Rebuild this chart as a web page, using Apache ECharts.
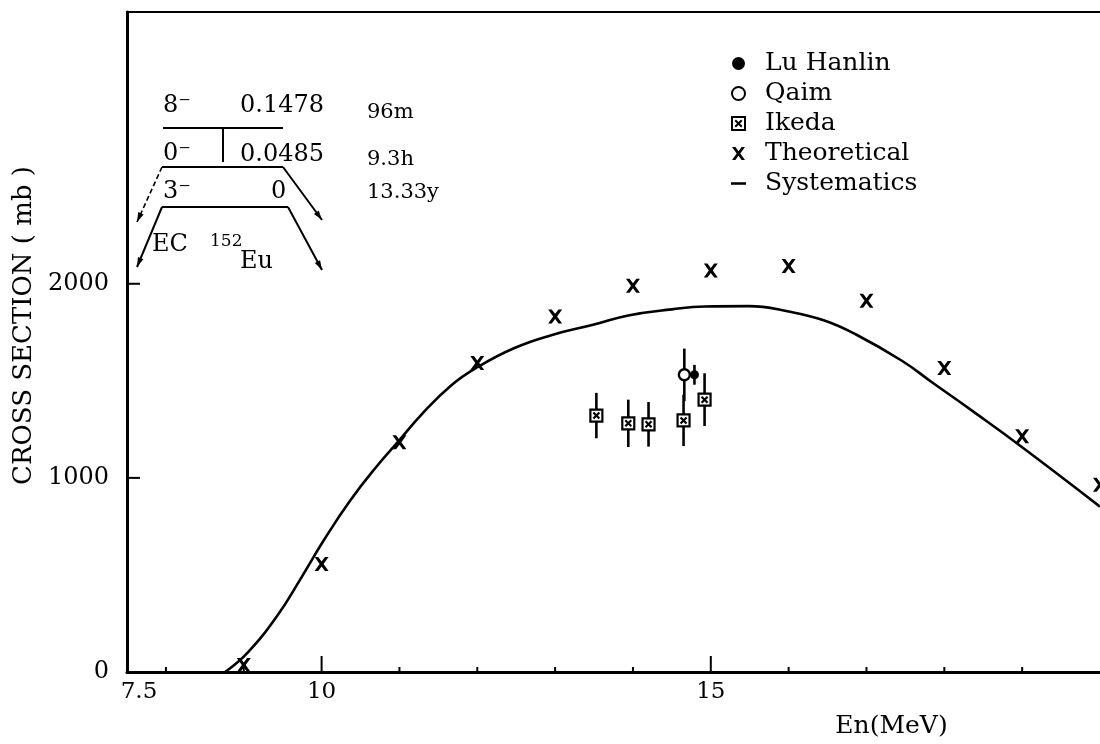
<!DOCTYPE html>
<html>
<head>
<meta charset="UTF-8">
<title>152Eu cross section</title>
<style>
  html, body { margin: 0; padding: 0; background: #fff; }
  #chart { width: 1100px; height: 744px; }
</style>
</head>
<body>
<div id="chart"></div>
<script src="https://cdn.jsdelivr.net/npm/echarts@6/dist/echarts.min.js"></script>
<script>
// systematics curve (En in MeV, cross section in mb)
var sysX = [8.76, 9.05, 9.43, 9.73, 10.03, 10.37, 10.72, 11.0, 11.28, 11.66, 12.0, 12.47, 12.95, 13.5, 13.94, 14.5, 14.92, 15.49, 16.0, 16.45, 16.86, 17.46, 17.85, 18.36, 19.0, 20.0];
var sysY = [0, 100, 290, 480, 680, 885, 1065, 1195, 1325, 1475, 1570, 1668, 1735, 1790, 1837, 1868, 1883, 1885, 1857, 1812, 1740, 1602, 1490, 1345, 1158, 852];

// theoretical values
var theoX = [9, 10, 11, 12, 13, 14, 15, 16, 17, 18, 19, 20];
var theoY = [36, 556, 1184, 1592, 1832, 1990, 2068, 2092, 1913, 1566, 1214, 964];

// measurements
var ikedaX = [13.53, 13.94, 14.2, 14.65, 14.92];
var ikedaY = [1321, 1281, 1276, 1296, 1403];
var ikedaErr = [117, 122, 115, 132, 136];
var qaimX = [14.66];
var qaimY = [1531];
var qaimErr = [135];
var luX = [14.79];
var luY = [1531];
var luErr = [51];

// axis decoration
var xTicks = [8, 9, 10, 11, 12, 13, 14, 15, 16, 17, 18, 19];
var yTicks = [1000, 2000];
var xLabels = [7.5, 10, 15];
var yLabels = [0, 1000, 2000];

var serif = '"DejaVu Serif", "Liberation Serif", serif';

function pairs(xs, ys) {
    return xs.map(function(x, i) { return [x, ys[i]]; });
}

function errSeries(xs, ys, es) {
    return {
        type: 'custom',
        name: 'err',
        silent: true,
        z: 1,
        encode: { x: 0, y: [1, 2] },
        data: xs.map(function(x, i) { return [x, ys[i] - es[i], ys[i] + es[i]]; }),
        renderItem: function(params, api) {
            var lo = api.coord([api.value(0), api.value(1)]);
            var hi = api.coord([api.value(0), api.value(2)]);
            return {
                type: 'line',
                shape: { x1: lo[0], y1: lo[1], x2: hi[0], y2: hi[1] },
                style: { stroke: '#000', lineWidth: 2.6 }
            };
        }
    };
}

// inset level scheme helpers (pixel positions)
function seg(x1, y1, x2, y2, w, dash) {
    return {
        type: 'line',
        shape: { x1: x1, y1: y1, x2: x2, y2: y2 },
        style: { stroke: '#000', lineWidth: w || 2, lineDash: dash || null }
    };
}

function head(x1, y1, x2, y2) {
    var a = Math.atan2(y2 - y1, x2 - x1), L = 10, s = 0.3;
    return {
        type: 'polygon',
        shape: { points: [[x2, y2], [x2 - L * Math.cos(a - s), y2 - L * Math.sin(a - s)], [x2 - L * Math.cos(a + s), y2 - L * Math.sin(a + s)]] },
        style: { fill: '#000' }
    };
}

function txt(x, y, s, size) {
    return {
        type: 'text',
        x: x,
        y: y,
        style: { text: s, fill: '#000', font: (size || 23) + 'px ' + serif, verticalAlign: 'middle' }
    };
}

var X_PATH = 'path://M0,0 L2.6,0 L5,3.2 L7.4,0 L10,0 L6.4,5 L10,10 L7.4,10 L5,6.8 L2.6,10 L0,10 L3.6,5 Z';
var BOX_PATH = 'path://M0,0 H12 V12 H0 Z M3,3 L9,9 M9,3 L3,9';
var DASH_PATH = 'path://M0,0 H14 V2.4 H0 Z';

var chart = echarts.init(document.getElementById('chart'));

chart.setOption({
    animation: false,
    backgroundColor: '#fff',
    grid: { left: 127, right: 0, top: 12, bottom: 67 },
    legend: {
        orient: 'vertical',
        left: 726,
        top: 46,
        itemWidth: 15,
        itemHeight: 13,
        itemGap: 5,
        selectedMode: false,
        textStyle: { fontFamily: serif, fontSize: 25, color: '#000', lineHeight: 24, padding: [0, 0, 0, 14] },
        data: ['Lu Hanlin', 'Qaim', 'Ikeda', 'Theoretical', { name: 'Systematics', icon: DASH_PATH }]
    },
    xAxis: [{
        type: 'value',
        min: 7.5,
        max: 20,
        interval: 2.5,
        name: 'En(MeV)',
        nameLocation: 'middle',
        nameGap: 42,
        nameTextStyle: { fontFamily: serif, fontSize: 25, color: '#000', padding: [0, 0, 0, 556] },
        axisLine: { lineStyle: { color: '#000', width: 3 } },
        axisTick: { show: false },
        splitLine: { show: false },
        axisLabel: {
            margin: 9,
            showMaxLabel: false,
            color: '#000',
            fontFamily: serif,
            fontSize: 23,
            formatter: function(v) {
                if (xLabels.indexOf(v) < 0) return '';
                return v === 7.5 ? '{f|7.5}' : String(v);
            },
            rich: { f: { fontFamily: serif, fontSize: 23, color: '#000', padding: [0, 0, 0, 24] } }
        }
    }, {
        type: 'value',
        position: 'top',
        min: 7.5,
        max: 20,
        interval: 2.5,
        axisLine: { lineStyle: { color: '#000', width: 2 } },
        axisTick: { show: false },
        axisLabel: { show: false },
        splitLine: { show: false }
    }],
    yAxis: {
        type: 'value',
        min: 0,
        max: 3400,
        interval: 1000,
        name: 'CROSS SECTION ( mb )',
        nameLocation: 'middle',
        nameRotate: 90,
        nameGap: 88,
        nameTextStyle: { fontFamily: serif, fontSize: 26, color: '#000', padding: [0, 0, 0, 33] },
        axisLine: { show: true, lineStyle: { color: '#000', width: 3 } },
        axisTick: { show: false },
        splitLine: { show: false },
        axisLabel: {
            margin: 18,
            color: '#000',
            fontFamily: serif,
            fontSize: 24,
            formatter: function(v) { return yLabels.indexOf(v) >= 0 ? String(v) : ''; }
        }
    },
    series: [{
        name: 'ticksX',
        type: 'custom',
        silent: true,
        encode: { x: 0 },
        data: xTicks.map(function(v) { return [v]; }),
        renderItem: function(params, api) {
            var p = api.coord([api.value(0), 0]);
            var len = api.value(0) % 5 === 0 ? 16 : 5;
            return { type: 'line', shape: { x1: p[0], y1: p[1], x2: p[0], y2: p[1] - len }, style: { stroke: '#000', lineWidth: 2 } };
        }
    }, {
        name: 'ticksY',
        type: 'custom',
        silent: true,
        encode: { y: 0 },
        data: yTicks.map(function(v) { return [v]; }),
        renderItem: function(params, api) {
            var p = api.coord([7.5, api.value(0)]);
            return { type: 'line', shape: { x1: p[0], y1: p[1], x2: p[0] + 13, y2: p[1] }, style: { stroke: '#000', lineWidth: 2 } };
        }
    }, {
        name: 'Systematics',
        type: 'line',
        data: pairs(sysX, sysY),
        smooth: 0.45,
        symbol: 'none',
        lineStyle: { color: '#000', width: 2.6 },
        itemStyle: { color: '#000' }
    }, {
        name: 'Theoretical',
        type: 'scatter',
        data: pairs(theoX, theoY),
        symbol: X_PATH,
        symbolSize: 14,
        itemStyle: { color: '#000', opacity: 1 }
    },
    errSeries(ikedaX, ikedaY, ikedaErr),
    errSeries(qaimX, qaimY, qaimErr),
    errSeries(luX, luY, luErr),
    {
        name: 'Ikeda',
        type: 'scatter',
        z: 3,
        data: pairs(ikedaX, ikedaY),
        symbol: BOX_PATH,
        symbolSize: 12,
        itemStyle: { color: '#fff', borderColor: '#000', borderWidth: 2.2, opacity: 1 }
    }, {
        name: 'Qaim',
        type: 'scatter',
        z: 3,
        data: pairs(qaimX, qaimY),
        symbol: 'circle',
        symbolSize: 11,
        itemStyle: { color: '#fff', borderColor: '#000', borderWidth: 2.4, opacity: 1 }
    }, {
        name: 'Lu Hanlin',
        type: 'scatter',
        z: 3,
        data: pairs(luX, luY),
        symbol: 'circle',
        symbolSize: 9,
        itemStyle: { color: '#000', opacity: 1 }
    }],
    graphic: [
        seg(163, 128, 283, 128),
        seg(223, 128, 223, 162),
        seg(162, 167, 283, 167),
        seg(162, 167, 137, 222, 1.6, [5, 3]),
        head(162, 167, 137, 222),
        seg(283, 167, 322, 220),
        head(283, 167, 322, 220),
        seg(162, 207, 288, 207),
        seg(162, 207, 137, 267),
        head(162, 207, 137, 267),
        seg(288, 207, 322, 270),
        head(288, 207, 322, 270),
        txt(163, 106, '8⁻', 24),
        txt(240, 106, '0.1478', 24),
        txt(163, 154, '0⁻', 24),
        txt(240, 155, '0.0485', 24),
        txt(163, 192, '3⁻', 24),
        txt(271, 192, '0', 24),
        txt(152, 245, 'EC', 24),
        txt(210, 242, '152', 17),
        txt(240, 262, 'Eu', 24),
        txt(367, 113, '96m', 21),
        txt(367, 160, '9.3h', 21),
        txt(367, 193, '13.33y', 21)
    ]
});
</script>
</body>
</html>
